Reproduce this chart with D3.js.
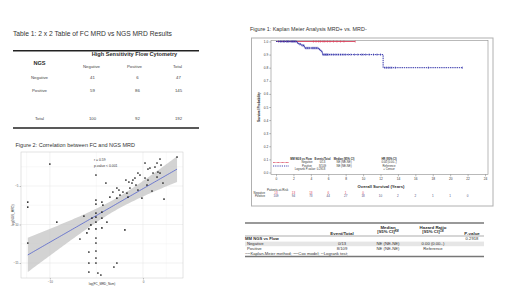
<!DOCTYPE html>
<html>
<head>
<meta charset="utf-8">
<script src="https://cdn.jsdelivr.net/npm/d3@7"></script>
<style>
  body { margin: 0; background: #fff; }
  svg { display: block; }
  text { font-family: "Liberation Sans", Arial, sans-serif; }
</style>
</head>
<body>
<div id="chart"></div>
<script>
/**
 * DATA
 * */
// Table 1 (2 x 2 cross tab)
const flowCols = ["Negative", "Positive", "Total"];
const ngsRows = ["Negative", "Positive", "Total"];
const crossTab = [[41, 6, 47], [59, 86, 145], [100, 92, 192]];

// Figure 2 scatter: log(FC_MRD_Num) vs log(NGS_MRD)
const fcLog = [-10.0, -12.37, -12.37, -12.37, -9.25, -5.05, -3.98, -5.05, -5.05, -5.05,
  -5.05, -5.05, -5.05, -5.05, -5.05, -5.05, -5.05, -5.05, -5.81, -5.81,
  -5.81, -6.34, -6.77, -6.02, -5.59, -4.84, -4.52, -3.12, -2.80, -4.41,
  -4.41, -4.41, -4.41, -3.87, -1.94, -3.55, -3.23, -2.80, -2.58, -2.15,
  -1.72, -1.40, -1.18, -1.08, -0.86, -1.83, -1.51, -2.80, -2.47, -0.11,
  0.22, 0.54, 0.75, 1.08, 1.29, 1.51, 1.83, 1.94, 1.83, 1.51,
  2.15, 2.26, 3.66, -0.32, -0.54, 0.22, 0.43, 0.54, 0.97, 1.61,
  -0.75, -0.54, -1.61, -4.30, -5.48, -5.81];
const ngsLog = [-2.14, -7.08, -7.73, -12.40, -9.68, -3.57, -4.61, -6.82, -7.34, -8.51,
  -9.03, -9.68, -10.58, -11.75, -12.40, -13.44, -14.35, -15.0, -13.57, -15.0,
  -16.17, -8.90, -11.88, -11.10, -10.06, -16.30, -16.56, -15.52, -15.0, -7.08,
  -8.38, -9.16, -10.45, -9.68, -10.71, -6.43, -5.78, -5.26, -5.52, -5.78,
  -5.91, -5.26, -4.61, -4.22, -3.96, -4.22, -4.48, -6.56, -6.17, -6.56,
  -2.01, -2.79, -2.66, -3.31, -2.53, -2.01, -1.49, -2.27, -3.31, -3.83,
  -4.61, -6.69, -1.23, -3.57, -3.31, -3.96, -4.87, -4.22, -5.65, -3.18,
  -4.87, -5.52, -6.43, -7.47, -9.16, -10.58];
const xTicks2 = [-10, 0];
const yTicks2 = [-15, -10, -5];
const corrText = ["r = 0.59", "p-value < 0.001"];

// Figure 1 Kaplan-Meier
const negTimes = [0, 9.1];
const negSurv = [1, 1];
const posTimes = [0, 2.4, 2.6, 2.95, 3.26, 4.87, 5.13, 5.33, 12.3, 21.4];
const posSurv = [1, 0.99, 0.98, 0.97, 0.95, 0.94, 0.925, 0.90, 0.80, 0.80];
const negCensor = [4.3, 4.6, 4.9, 5.1, 5.4, 5.6, 5.9, 6.2, 6.6, 7.0, 7.4, 7.8, 9.1];
const posCensor = [0.3, 0.5, 0.6, 0.8, 0.9, 1.0, 1.2, 1.3, 1.4, 1.5, 1.7, 1.8, 1.9, 2.0,
  2.1, 2.2, 2.3, 2.5, 2.7, 2.8, 3.0, 3.1, 3.2, 3.4, 3.5, 3.6, 3.7, 3.8, 3.9,
  4.1, 4.2, 4.3, 4.4, 4.5, 4.6, 4.7, 4.8, 5.0, 5.2, 5.4, 5.5, 5.6, 5.7, 5.8, 5.9, 6.0,
  6.2, 6.4, 6.6, 6.8, 7.0, 7.2, 7.4, 7.6, 7.8, 8.0,
  8.3, 8.6, 9.0, 9.4, 9.8, 10.0, 10.3, 10.7, 11.2, 11.6, 12.0,
  12.5, 12.7, 12.9, 13.1, 13.3, 13.7, 17.5, 21.4];
const kmXTicks = [0, 2, 4, 6, 8, 10, 12, 14, 16, 18, 20, 22, 24];
const kmYTicks = [0, 0.1, 0.2, 0.3, 0.4, 0.5, 0.6, 0.7, 0.8, 0.9, 1.0];
const riskNeg = [13, 13, 13, 6, 1, 0];
const riskPos = [109, 94, 73, 44, 27, 18, 10, 2, 2, 1, 1, 0];
const kmLegendHead = ["MM NGS vs Flow", "Events/Total", "Median (95% CI)", "HR (95% CI)"];
const kmLegendRows = [["Negative", "0/13", "NE (NE-NE)", "0.00 (0.00-.)"],
  ["Positive", "8/109", "NE (NE-NE)", "Reference"]];

// Summary table (lower right)
const sumRows = [["Negative", "0/13", "NE (NE-NE)", "0.00 (0.00-.)"],
  ["Positive", "8/109", "NE (NE-NE)", "Reference"]];
const pValue = "0.2918";

/**
 * SETUP
 * */
const width = 520, height = 292;
const svg = d3.select("#chart").append("svg")
  .attr("width", width).attr("height", height);

const red = "#d8405a", blue = "#3030a8", ink = "#2a2a2a";

/**
 * TABLE 1
 * */
const t1 = svg.append("g");
t1.append("text").attr("x", 13).attr("y", 35.5)
  .attr("font-size", 6.7).attr("fill", "#333")
  .text("Table 1: 2 x 2 Table of FC MRD vs NGS MRD Results");

[50.7, 128].forEach(y => t1.append("line")
  .attr("x1", 13).attr("x2", 199).attr("y1", y).attr("y2", y)
  .attr("stroke", "#222").attr("stroke-width", 1.4));

t1.append("text").attr("x", 134.5).attr("y", 56.3)
  .attr("text-anchor", "middle").attr("font-size", 5.6).attr("font-weight", "bold")
  .attr("fill", ink).text("High Sensitivity Flow Cytometry");
t1.append("text").attr("x", 39.5).attr("y", 64.8)
  .attr("text-anchor", "middle").attr("font-size", 5.6).attr("font-weight", "bold")
  .attr("fill", ink).text("NGS");

const colX = d3.scalePoint().domain(flowCols).range([91.5, 177.5]);
const rowY = d3.scalePoint().domain(["Negative", "Positive", "", "Total"]).range([77.3, 118.3]);

t1.selectAll(".colhead").data(flowCols).join("text")
  .attr("x", d => colX(d)).attr("y", 68.2)
  .attr("text-anchor", "middle").attr("font-size", 4.3).attr("fill", "#444")
  .text(d => d);

ngsRows.forEach((r, i) => {
  t1.append("text").attr("x", 39.5).attr("y", rowY(r) + 1.5)
    .attr("text-anchor", "middle").attr("font-size", 4.3).attr("fill", "#444").text(r);
  t1.selectAll(null).data(crossTab[i]).join("text")
    .attr("x", (d, j) => colX(flowCols[j]) + (j === 1 ? 3 : 1))
    .attr("y", rowY(r) + 1.5)
    .attr("text-anchor", "middle").attr("font-size", 4.3).attr("fill", "#444")
    .text(d => d);
});

/**
 * FIGURE 2: SCATTER
 * */
const f2 = svg.append("g");
f2.append("text").attr("x", 15.5).attr("y", 147)
  .attr("font-size", 5.5).attr("fill", "#333")
  .text("Figure 2: Correlation between FC and NGS MRD");

const xS = d3.scaleLinear().domain([-13.1, 4.3]).range([21, 183]);
const yS = d3.scaleLinear().domain([-16.95, -0.58]).range([278, 152]);

// grid (minor then major)
const xMinor = [-12.5, -5, 2.5], yMinor = [-12.5, -7.5, -2.5];
f2.selectAll(".gxm").data(xMinor).join("line")
  .attr("x1", d => xS(d)).attr("x2", d => xS(d)).attr("y1", 152).attr("y2", 278)
  .attr("stroke", "#f0f0f0").attr("stroke-width", 0.4);
f2.selectAll(".gym").data(yMinor).join("line")
  .attr("y1", d => yS(d)).attr("y2", d => yS(d)).attr("x1", 21).attr("x2", 183)
  .attr("stroke", "#f0f0f0").attr("stroke-width", 0.4);
f2.selectAll(".gx").data(xTicks2).join("line")
  .attr("x1", d => xS(d)).attr("x2", d => xS(d)).attr("y1", 152).attr("y2", 278)
  .attr("stroke", "#e4e4e4").attr("stroke-width", 0.5);
f2.selectAll(".gy").data(yTicks2).join("line")
  .attr("y1", d => yS(d)).attr("y2", d => yS(d)).attr("x1", 21).attr("x2", 183)
  .attr("stroke", "#e4e4e4").attr("stroke-width", 0.5);

// linear fit with 95% band
const n = fcLog.length;
const mx = d3.mean(fcLog), my = d3.mean(ngsLog);
const sxx = d3.sum(fcLog, x => (x - mx) ** 2);
const sxy = d3.sum(fcLog.map((x, i) => (x - mx) * (ngsLog[i] - my)));
const slope = sxy / sxx, icpt = my - slope * mx;
const rss = d3.sum(fcLog.map((x, i) => (ngsLog[i] - icpt - slope * x) ** 2));
const se = Math.sqrt(rss / (n - 2));
const [xmin, xmax] = d3.extent(fcLog);
const grid = d3.range(0, 81).map(k => xmin + (xmax - xmin) * k / 80);
const band = grid.map(x => {
  const fit = icpt + slope * x;
  const h = 1.99 * se * Math.sqrt(1 / n + (x - mx) ** 2 / sxx);
  return { x, lo: fit - h, hi: fit + h, fit };
});
f2.append("path").datum(band)
  .attr("d", d3.area().x(d => xS(d.x)).y0(d => yS(d.lo)).y1(d => yS(d.hi)))
  .attr("fill", "#c4c4c4").attr("opacity", 0.75);
f2.append("path").datum(band)
  .attr("d", d3.line().x(d => xS(d.x)).y(d => yS(d.fit)))
  .attr("fill", "none").attr("stroke", "#4455cc").attr("stroke-width", 0.7);

f2.selectAll(".pt").data(fcLog).join("circle")
  .attr("cx", d => xS(d)).attr("cy", (d, i) => yS(ngsLog[i]))
  .attr("r", 0.85).attr("fill", "#111");

f2.append("rect").attr("x", 21).attr("y", 152).attr("width", 162).attr("height", 126)
  .attr("fill", "none").attr("stroke", "#c8c8c8").attr("stroke-width", 0.5);

// axes
const ax2 = f2.append("g").attr("transform", "translate(0,278)")
  .call(d3.axisBottom(xS).tickValues(xTicks2).tickSize(1.5).tickPadding(1));
const ay2 = f2.append("g").attr("transform", "translate(21,0)")
  .call(d3.axisLeft(yS).tickValues(yTicks2).tickSize(1.5).tickPadding(1));
[ax2, ay2].forEach(a => {
  a.select(".domain").remove();
  a.selectAll("line").attr("stroke", "#666").attr("stroke-width", 0.4);
  a.selectAll("text").attr("font-size", 3).attr("fill", "#555")
    .attr("font-family", "Liberation Sans, Arial, sans-serif");
});
f2.append("text").attr("x", 102).attr("y", 285)
  .attr("text-anchor", "middle").attr("font-size", 3).attr("fill", "#333")
  .text("log(FC_MRD_Num)");
f2.append("text").attr("transform", "translate(13.5,215) rotate(-90)")
  .attr("text-anchor", "middle").attr("font-size", 3).attr("fill", "#333")
  .text("log(NGS_MRD)");
corrText.forEach((t, i) => f2.append("text")
  .attr("x", 94).attr("y", 160.5 + i * 6)
  .attr("font-size", 3.4).attr("fill", "#333").text(t));

/**
 * FIGURE 1: KAPLAN-MEIER
 * */
const f1 = svg.append("g");
f1.append("text").attr("x", 250).attr("y", 31)
  .attr("font-size", 5.4).attr("fill", "#333")
  .text("Figure 1: Kaplan Meier Analysis MRD+ vs. MRD-");

f1.append("rect").attr("x", 251.5).attr("y", 38).attr("width", 241.5).attr("height", 168)
  .attr("fill", "none").attr("stroke", "#b0b0b0").attr("stroke-width", 1);
f1.append("rect").attr("x", 271).attr("y", 40.5).attr("width", 217).attr("height", 134)
  .attr("fill", "none").attr("stroke", "#8a8a8a").attr("stroke-width", 0.6);

const kx = d3.scaleLinear().domain([0, 24]).range([276, 485]);
const ky = d3.scaleLinear().domain([0, 1]).range([172.5, 41.5]);

const kyAxis = f1.append("g").attr("transform", "translate(271,0)")
  .call(d3.axisLeft(ky).tickValues(kmYTicks).tickFormat(d3.format(".1f")).tickSize(1.8).tickPadding(1));
const kxAxis = f1.append("g").attr("transform", "translate(0,174.5)")
  .call(d3.axisBottom(kx).tickValues(kmXTicks).tickSize(1.8).tickPadding(1.5));
[kyAxis, kxAxis].forEach(a => {
  a.select(".domain").remove();
  a.selectAll("line").attr("stroke", "#555").attr("stroke-width", 0.4);
  a.selectAll("text").attr("font-size", 3.2).attr("fill", "#333")
    .attr("font-family", "Liberation Sans, Arial, sans-serif");
});

f1.append("text").attr("x", 381).attr("y", 187.5)
  .attr("text-anchor", "middle").attr("font-size", 4.2).attr("font-weight", "bold")
  .attr("fill", ink).text("Overall Survival (Years)");
f1.append("text").attr("transform", "translate(260,107) rotate(-90)")
  .attr("text-anchor", "middle").attr("font-size", 3.2).attr("font-weight", "bold")
  .attr("fill", ink).text("Survival Probability");

const stepLine = d3.line().curve(d3.curveStepAfter).x(d => kx(d[0])).y(d => ky(d[1]));
const survAt = (times, surv, t) => surv[Math.max(0, d3.bisectRight(times, t) - 1)];

f1.append("path").datum(negTimes.map((t, i) => [t, negSurv[i]]))
  .attr("d", stepLine).attr("fill", "none").attr("stroke", red).attr("stroke-width", 0.9);
f1.selectAll(".cneg").data(negCensor).join("line")
  .attr("x1", d => kx(d)).attr("x2", d => kx(d))
  .attr("y1", d => ky(survAt(negTimes, negSurv, d)) - 1.2)
  .attr("y2", d => ky(survAt(negTimes, negSurv, d)) + 1.2)
  .attr("stroke", red).attr("stroke-width", 0.5);

f1.append("path").datum(posTimes.map((t, i) => [t, posSurv[i]]))
  .attr("d", stepLine).attr("fill", "none").attr("stroke", blue)
  .attr("stroke-width", 1).attr("stroke-dasharray", "1.4,0.8");
f1.selectAll(".cpos").data(posCensor).join("line")
  .attr("x1", d => kx(d)).attr("x2", d => kx(d))
  .attr("y1", d => ky(survAt(posTimes, posSurv, d)) - 1.2)
  .attr("y2", d => ky(survAt(posTimes, posSurv, d)) + 1.2)
  .attr("stroke", blue).attr("stroke-width", 0.5);

// inset legend table
const legX = [301, 322.5, 344, 389];
const legY = [159.8, 163.3, 166.8, 170.3];
kmLegendHead.forEach((h, j) => f1.append("text")
  .attr("x", legX[j]).attr("y", legY[0]).attr("text-anchor", "middle")
  .attr("font-size", 2.7).attr("font-weight", "bold").attr("fill", ink).text(h));
kmLegendRows.forEach((row, i) => row.forEach((c, j) => f1.append("text")
  .attr("x", legX[j] + (j === 0 ? 6 : 0)).attr("y", legY[i + 1]).attr("text-anchor", "middle")
  .attr("font-size", 2.8).attr("fill", "#333").text(c)));
f1.append("text").attr("x", 310).attr("y", legY[3]).attr("text-anchor", "middle")
  .attr("font-size", 2.8).attr("fill", "#333").text("Logrank P-value: " + pValue);
f1.append("text").attr("x", 389).attr("y", legY[3]).attr("text-anchor", "middle")
  .attr("font-size", 2.8).attr("fill", "#333").text("+ Censor");
f1.append("line").attr("x1", 273).attr("x2", 289).attr("y1", 162.5).attr("y2", 162.5)
  .attr("stroke", red).attr("stroke-width", 0.9).attr("stroke-dasharray", "0.8,0.5");
f1.append("line").attr("x1", 273).attr("x2", 289).attr("y1", 166).attr("y2", 166)
  .attr("stroke", blue).attr("stroke-width", 0.9).attr("stroke-dasharray", "1.2,1");

// patients at risk
f1.append("text").attr("x", 267).attr("y", 190.5)
  .attr("font-size", 3).attr("fill", "#333").text("Patients-at-Risk");
[["Negative", riskNeg, red, 194.2], ["Positive", riskPos, "#4a4a7a", 197.4]].forEach(([lab, vals, col, y]) => {
  f1.append("text").attr("x", 265).attr("y", y).attr("text-anchor", "end")
    .attr("font-size", 2.9).attr("fill", "#333").text(lab);
  f1.selectAll(null).data(vals).join("text")
    .attr("x", (d, i) => kx(kmXTicks[i])).attr("y", y).attr("text-anchor", "middle")
    .attr("font-size", 3).attr("fill", col).text(d => d);
});

/**
 * SUMMARY TABLE
 * */
const st = svg.append("g");
const sumX = [247, 342, 388, 433, 472];
st.append("rect").attr("x", 245).attr("y", 241.6).attr("width", 239).attr("height", 4.6)
  .attr("fill", "#e6e6e6");
[[223, 1.3], [236, 0.6], [256.5, 1.3]].forEach(([y, w]) => st.append("line")
  .attr("x1", 245).attr("x2", 484).attr("y1", y).attr("y2", y)
  .attr("stroke", "#777").attr("stroke-width", w));

const hdr = (x, y, txt, sup) => {
  const t = st.append("text").attr("x", x).attr("y", y).attr("text-anchor", "middle")
    .attr("font-size", 4.4).attr("font-weight", "bold").attr("fill", ink).text(txt);
  if (sup) t.append("tspan").attr("dy", -1.6).attr("font-size", 2.6).text(sup);
};
hdr(388, 228.6, "Median");
hdr(388, 233.4, "[95% CI]", "KM");
hdr(433, 228.6, "Hazard Ratio");
hdr(433, 233.4, "[95% CI]", "CM");
hdr(342, 234.5, "Event/Total");
hdr(472, 234.5, "P-value");

st.append("text").attr("x", 245).attr("y", 240.2)
  .attr("font-size", 4.2).attr("font-weight", "bold").attr("fill", ink).text("MM NGS vs Flow");
st.append("text").attr("x", 472).attr("y", 240).attr("text-anchor", "middle")
  .attr("font-size", 4.2).attr("fill", "#333").text(pValue);
sumRows.forEach((row, i) => row.forEach((c, j) => st.append("text")
  .attr("x", sumX[j]).attr("y", 245.3 + i * 4.6)
  .attr("text-anchor", j === 0 ? "start" : "middle")
  .attr("font-size", 4.2).attr("fill", "#333").text(c)));

const foot = st.append("text").attr("x", 245).attr("y", 255)
  .attr("font-size", 4.2).attr("fill", "#333");
[["(KM)", "Kaplan-Meier method; "], ["(CM)", "Cox model; "], ["(L)", "Logrank test;"]].forEach(([s, t]) => {
  foot.append("tspan").attr("font-size", 2.5).attr("dy", -1.5).text(s);
  foot.append("tspan").attr("font-size", 4.2).attr("dy", 1.5).text(t);
});
</script>
</body>
</html>
